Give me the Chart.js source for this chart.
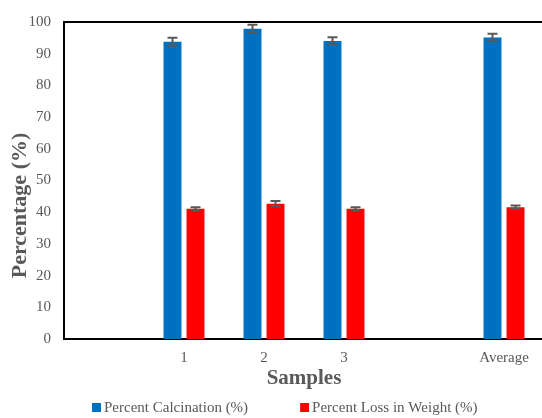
<!DOCTYPE html>
<html>
<head>
<meta charset="utf-8">
<script src="https://cdn.jsdelivr.net/npm/chart.js@4"></script>
<style>
    html, body { margin: 0; padding: 0; background: #fff; overflow: hidden; }
    #wrap { width: 552px; height: 418px; }
</style>
</head>
<body>
<div id="wrap"><canvas id="chart"></canvas></div>
<script>
const categories = ['', '1', '2', '3', '', 'Average'];
const calcination = [null, 93.8, 97.9, 94.0, null, 95.1];
const calcinationErr = [null, 1.2, 1.2, 1.2, null, 1.2];
const weightLoss = [null, 41.1, 42.7, 41.1, null, 41.6];
const weightLossErr = [null, 0.5, 0.8, 0.5, null, 0.5];
const yTicks = [0, 10, 20, 30, 40, 50, 60, 70, 80, 90, 100];

const gray = '#595959';
const serif = "'Liberation Serif', 'Times New Roman', serif";

const errorBars = {
    id: 'errorBars',
    afterDatasetsDraw(chart) {
        const ctx = chart.ctx;
        const y = chart.scales.y;
        const errs = [calcinationErr, weightLossErr];

        ctx.save();
        ctx.strokeStyle = gray;
        ctx.lineWidth = 2;
        chart.data.datasets.forEach((ds, i) => {
            chart.getDatasetMeta(i).data.forEach((bar, j) => {
                const v = ds.data[j];
                const e = errs[i][j];
                if (v === null || e === null) {
                    return;
                }
                const top = y.getPixelForValue(v + e);
                const bottom = y.getPixelForValue(v - e);
                ctx.beginPath();
                ctx.moveTo(bar.x, top);
                ctx.lineTo(bar.x, bottom);
                ctx.moveTo(bar.x - 5, top);
                ctx.lineTo(bar.x + 5, top);
                ctx.moveTo(bar.x - 5, bottom);
                ctx.lineTo(bar.x + 5, bottom);
                ctx.stroke();
            });
        });
        ctx.restore();
    },
};

// top frame line, y axis title (sits a bit below centre) and the legend row
const decorations = {
    id: 'decorations',
    afterDraw(chart) {
        const { ctx, chartArea } = chart;
        ctx.save();
        ctx.strokeStyle = '#000';
        ctx.lineWidth = 2;
        ctx.beginPath();
        ctx.moveTo(chartArea.left - 1, chartArea.top);
        ctx.lineTo(chartArea.right + 1, chartArea.top);
        ctx.stroke();

        ctx.fillStyle = gray;
        ctx.font = `bold 22px ${serif}`;
        ctx.textAlign = 'center';
        ctx.textBaseline = 'middle';
        ctx.translate(20, (chartArea.top + chartArea.bottom) / 2 + 25);
        ctx.rotate(-Math.PI / 2);
        ctx.fillText('Percentage (%)', 0, 0);
        ctx.restore();

        ctx.save();
        ctx.font = `15px ${serif}`;
        ctx.textBaseline = 'middle';
        const legendY = chart.height - 10;
        let x = 92;
        chart.data.datasets.forEach((ds) => {
            ctx.fillStyle = ds.backgroundColor;
            ctx.fillRect(x, legendY - 5, 9, 9);
            ctx.fillStyle = gray;
            ctx.fillText(ds.label, x + 12, legendY);
            x += 12 + ctx.measureText(ds.label).width + 52;
        });
        ctx.restore();
    },
};

new Chart(document.getElementById('chart'), {
    type: 'bar',
    data: {
        labels: categories,
        datasets: [
            {
                label: 'Percent Calcination (%)',
                data: calcination,
                backgroundColor: '#0070C0',
            },
            {
                label: 'Percent Loss in Weight (%)',
                data: weightLoss,
                backgroundColor: '#FF0000',
            },
        ],
    },
    options: {
        responsive: true,
        maintainAspectRatio: false,
        animation: false,
        datasets: {
            bar: {
                categoryPercentage: 0.575,
                barPercentage: 0.78,
            },
        },
        layout: {
            padding: { top: 11, right: 8, left: 0, bottom: 0 },
        },
        plugins: {
            tooltip: { enabled: false },
            legend: { display: false },
        },
        scales: {
            x: {
                afterFit(scale) {
                    scale.height = 79;
                },
                grid: { display: false, drawTicks: false },
                border: { color: '#000', width: 2 },
                ticks: {
                    color: gray,
                    padding: 10,
                    font: { family: serif, size: 15 },
                },
                title: {
                    display: true,
                    text: 'Samples',
                    color: gray,
                    padding: { top: 0, bottom: 27 },
                    font: { family: serif, size: 21, weight: 'bold' },
                },
            },
            y: {
                min: 0,
                max: 100,
                afterFit(scale) {
                    scale.width = 64;
                },
                afterBuildTicks(scale) {
                    scale.ticks = yTicks.map((value) => ({ value }));
                },
                grid: { display: false, drawTicks: false },
                border: { color: '#000', width: 2 },
                ticks: {
                    color: gray,
                    padding: 13,
                    font: { family: serif, size: 15 },
                },
            },
        },
    },
    plugins: [errorBars, decorations],
});
</script>
</body>
</html>
